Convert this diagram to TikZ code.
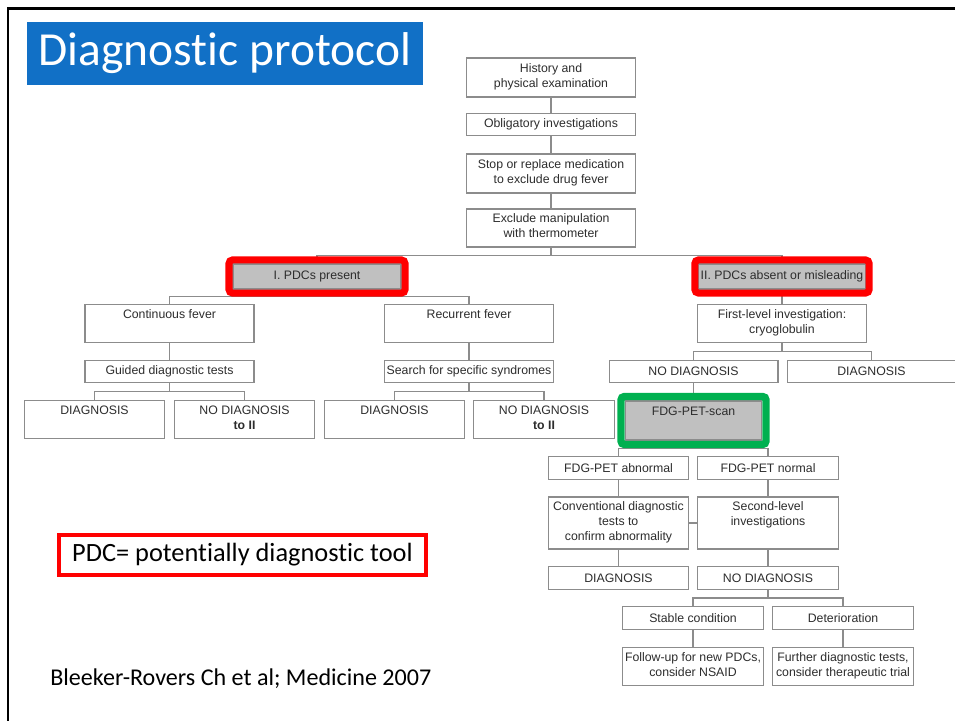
\documentclass[tikz,border=0pt]{standalone}
\usepackage{fontspec}
\newfontfamily\arialfont{Liberation Sans}
\newfontfamily\calibrifont{Carlito}[RawFeature={-liga}]
\usetikzlibrary{calc,fit}
\definecolor{titleblue}{RGB}{17,112,198}
\definecolor{boxline}{RGB}{140,140,140}
\definecolor{boxtext}{RGB}{45,45,45}
\definecolor{pdcgray}{RGB}{192,192,192}
\definecolor{petgreen}{RGB}{0,176,80}

\begin{document}
\begin{tikzpicture}[x=0.02cm,y=-0.02cm]
  \tikzstyle{b}=[rectangle,draw=boxline,line width=0.6pt,fill=white,text=boxtext,
    font=\arialfont\fontsize{7}{8.5}\selectfont,align=center,inner sep=1pt,minimum height=0.45cm]
  \tikzstyle{w}=[b,minimum width=3.38cm]
  \tikzstyle{n}=[b,minimum width=2.81cm]
  \tikzstyle{g}=[b,fill=pdcgray]
  \tikzstyle{tall}=[minimum height=0.75cm]
  \tikzstyle{ln}=[draw=boxline,line width=0.6pt]
  \tikzstyle{rf}=[draw=red,line width=4pt,rounded corners=2pt,inner sep=0.07cm]
  \tikzstyle{gf}=[draw=petgreen,line width=4.2pt,rounded corners=2pt,inner sep=0.08cm]
  \useasboundingbox (0,0) rectangle (955,720);

  % slide frame and title
  \draw[line width=0.06cm] (8,730) -- (8,8.5) -- (965,8.5);
  \node[fill=titleblue,text=white,font=\calibrifont\fontsize{27}{32}\selectfont,
    minimum width=7.92cm,minimum height=1.26cm,inner sep=0pt] (title) at (225,53.5) {Diagnostic protocol};

  % common trunk
  \node[w,minimum height=0.78cm] (hist) at (551,77.5) {History and\\physical examination\strut};
  \node[w] (oblig) at (551,124.5) {Obligatory investigations};
  \node[w,minimum height=0.78cm] (stop) at (551,173.5) {Stop or replace medication\\to exclude drug fever\strut};
  \node[w,minimum height=0.76cm] (therm) at (551,228) {Exclude manipulation\\with thermometer\strut};
  \node[g,minimum width=3.36cm,minimum height=0.5cm] (pdc1) at (317,276.5) {I. PDCs present};
  \node[g,minimum width=3.3cm,minimum height=0.5cm] (pdc2) at (782,276.5) {II. PDCs absent or misleading};

  % branch I
  \node[w,tall] (cont) at (169.5,323.5) {Continuous fever\\\strut};
  \node[w,tall] (recur) at (469,323.5) {Recurrent fever\\\strut};
  \node[w] (guided) at (169.5,371.5) {Guided diagnostic tests};
  \node[w] (search) at (469,371.5) {Search for specific syndromes};
  \node[n,tall] (dxa) at (94.5,419.5) {DIAGNOSIS\\\strut};
  \node[n,tall] (ndxa) at (244.5,419.5) {NO DIAGNOSIS\\\textbf{to II}\strut};
  \node[n,tall] (dxb) at (394.5,419.5) {DIAGNOSIS\\\strut};
  \node[n,tall] (ndxb) at (544,419.5) {NO DIAGNOSIS\\\textbf{to II}\strut};

  % branch II
  \node[w,tall] (first) at (782,323.5) {First-level investigation:\\cryoglobulin\strut};
  \node[w] (ndxc) at (693.5,371.5) {NO DIAGNOSIS};
  \node[w] (dxc) at (871.5,371.5) {DIAGNOSIS};
  \node[g,minimum width=2.72cm,minimum height=0.78cm] (pet) at (693.5,420.5) {FDG-PET-scan\\\strut};
  \node[n] (abn) at (618.5,468) {FDG-PET abnormal};
  \node[n] (nrm) at (768,468) {FDG-PET normal};
  \node[n,minimum height=1.04cm] (conv) at (618.5,523) {Conventional diagnostic\\tests to\\confirm abnormality\strut};
  \node[n,minimum height=1.04cm] (second) at (768,523) {Second-level\\investigations\\\strut};
  \node[n] (dxd) at (618.5,578) {DIAGNOSIS};
  \node[n] (ndxd) at (768,578) {NO DIAGNOSIS};
  \node[n] (stable) at (693,618) {Stable condition};
  \node[n] (deter) at (843,618) {Deterioration};
  \node[n,tall] (follow) at (693,666.5) {Follow-up for new PDCs,\\consider NSAID\strut};
  \node[n,tall] (further) at (843,666.5) {Further diagnostic tests,\\consider therapeutic trial\strut};

  % connectors
  \foreach \a/\b in {hist/oblig,oblig/stop,stop/therm,pdc2/first,cont/guided,recur/search,
      ndxc/pet,abn/conv,conv/dxd,nrm/second,second/ndxd,stable/follow,deter/further}
    \draw[ln] (\a.south) -- (\b.north);
  \foreach \a/\b in {therm/pdc1,therm/pdc2,pdc1/cont,pdc1/recur,guided/dxa,guided/ndxa,
      search/dxb,search/ndxb,first/ndxc,first/dxc,pet/abn,pet/nrm,ndxd/stable,ndxd/deter}
    \draw[ln] (\a.south) |- ($(\a.south)!.5!(\b.north)$) -| (\b.north);
  \draw[ln] (conv.east) -- (second.west);

  % highlights
  \node[rf,fit=(pdc1)] (pdc1frame) {};
  \node[rf,fit=(pdc2)] (pdc2frame) {};
  \node[gf,fit=(pet)] (petframe) {};

  % legend and source
  \node[draw=red,line width=2pt,minimum width=7.34cm,minimum height=0.8cm,
    font=\calibrifont\fontsize{15}{18}\selectfont] (legend) at (242.5,555) {PDC= potentially diagnostic tool};
  \node[anchor=base west,inner sep=0pt,font=\calibrifont\fontsize{13.7}{16}\selectfont] (cite) at (50,685)
    {Bleeker-Rovers Ch et al; Medicine 2007};
\end{tikzpicture}
\end{document}
